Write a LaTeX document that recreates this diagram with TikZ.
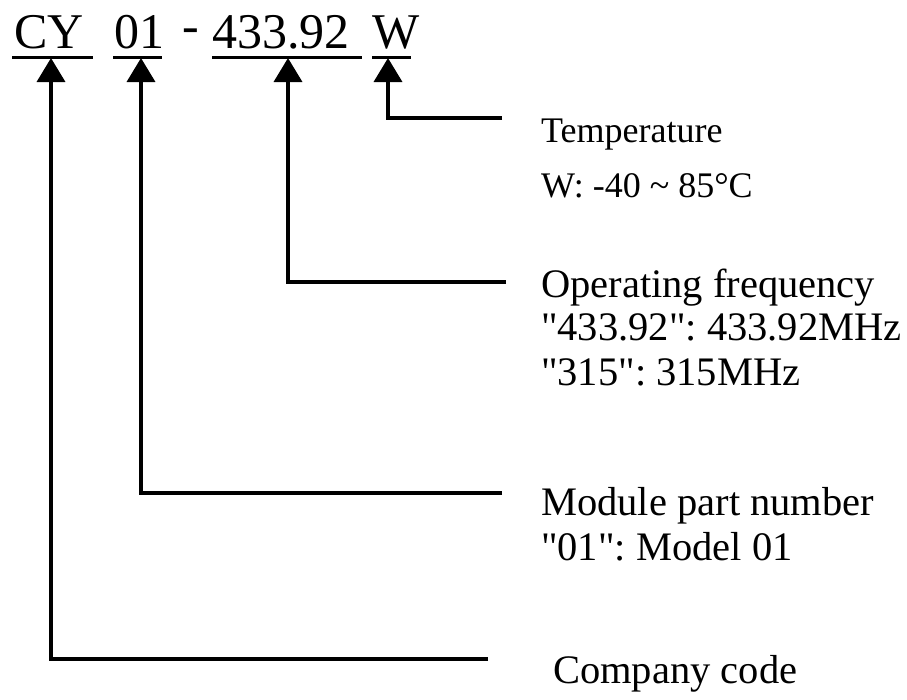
\documentclass[tikz,border=0pt]{standalone}
\usepackage{fontspec}
\setmainfont{Liberation Serif}
\usetikzlibrary{arrows.meta}
\newcommand{\sq}{\XeTeXglyph\XeTeXcharglyph"22\relax}
\frenchspacing
\begin{document}
\begin{tikzpicture}[x=1pt,y=-1pt,
  code/.style={anchor=base west,inner sep=0pt,font=\fontsize{50}{50}\selectfont},
  lblS/.style={anchor=base west,inner sep=0pt,font=\fontsize{36}{40}\selectfont\frenchspacing},
  lbl/.style={anchor=base west,inner sep=0pt,font=\fontsize{40.5}{45}\selectfont\frenchspacing},
  uline/.style={line width=3pt},
  conn/.style={line width=3.6pt,-{Triangle[width=28pt,length=24pt]}}]
\useasboundingbox[fill=white] (0,0) rectangle (907,699);
% code tokens
\node[code] (cy) at (14,48) {CY};
\node[code] (n01) at (114,48) {01};
\node[code] (dash) at (182,42) {-};
\node[code] (freq) at (212,48) {433.92};
\node[code] (w) at (372,48) {W};
% underlines
\draw[uline] (12,57) -- (93,57);
\draw[uline] (113,57) -- (162,57);
\draw[uline] (212,57) -- (362,57);
\draw[uline] (372,57) -- (411,57);
% tips
\coordinate (cyTip) at (51,58);
\coordinate (n01Tip) at (141,58);
\coordinate (freqTip) at (288,58);
\coordinate (wTip) at (388,58);
% branch ends
\coordinate (wEnd) at (502,118);
\coordinate (freqEnd) at (506,282);
\coordinate (n01End) at (502,493);
\coordinate (cyEnd) at (488,659);
% labels
\node[lblS] (temp) at (541,142) {Temperature};
\node[lblS] (tempRange) at (541,197) {W: -40 \char"007E{} 85°C};
\node[lbl] (opf) at (541,297) {Operating frequency};
\node[lbl] (opfA) at (541,340) {\sq433.92\sq: 433.92MHz};
\node[lbl] (opfB) at (541,385) {\sq315\sq: 315MHz};
\node[lbl] (mod) at (541,515) {Module part number};
\node[lbl] (modA) at (541,560) {\sq01\sq: Model 01};
\node[lbl] (comp) at (553,683) {Company code};
% connectors
\draw[conn] (wEnd) -| (wTip);
\draw[conn] (freqEnd) -| (freqTip);
\draw[conn] (n01End) -| (n01Tip);
\draw[conn] (cyEnd) -| (cyTip);
\end{tikzpicture}
\end{document}
